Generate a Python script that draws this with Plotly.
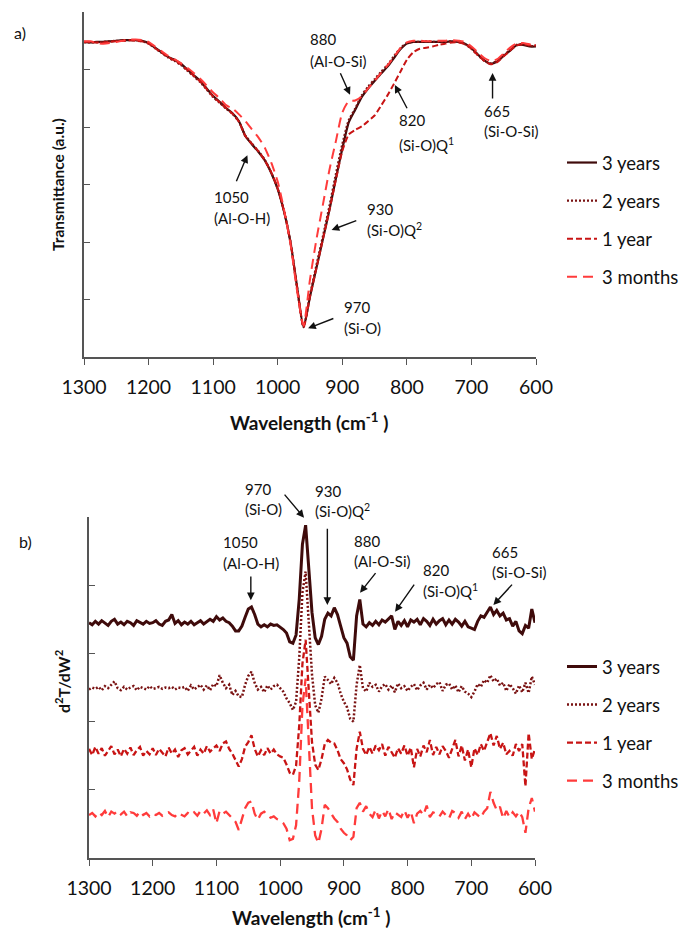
import plotly.graph_objects as go

# ---------------- data: panel a) transmittance ----------------
wn_a = list(range(1300, 599, -10))

trans_3y = [5.48, 5.47, 5.48, 5.48, 5.49, 5.50, 5.51, 5.51, 5.51, 5.50,
            5.46, 5.38, 5.30, 5.22, 5.17, 5.10, 5.00, 4.90, 4.80, 4.67,
            4.54, 4.44, 4.33, 4.24, 4.10, 3.84, 3.70, 3.57, 3.42, 3.20,
            2.92, 2.52, 1.98, 1.22, 0.52, 1.05, 1.55, 2.05, 2.55, 3.10,
            3.62, 4.08, 4.30, 4.52, 4.67, 4.80, 4.93, 5.05, 5.20, 5.35,
            5.45, 5.48, 5.48, 5.48, 5.48, 5.48, 5.48, 5.49, 5.48, 5.45,
            5.37, 5.26, 5.16, 5.10, 5.14, 5.24, 5.33, 5.42, 5.43, 5.40, 5.40]

trans_2y = [5.47, 5.47, 5.47, 5.48, 5.49, 5.50, 5.50, 5.51, 5.51, 5.49,
            5.45, 5.37, 5.29, 5.21, 5.15, 5.08, 4.98, 4.88, 4.78, 4.65,
            4.52, 4.42, 4.32, 4.23, 4.09, 3.85, 3.71, 3.58, 3.43, 3.21,
            2.93, 2.53, 1.99, 1.20, 0.52, 1.08, 1.60, 2.10, 2.62, 3.18,
            3.70, 4.12, 4.32, 4.55, 4.70, 4.83, 4.96, 5.08, 5.23, 5.37,
            5.46, 5.48, 5.48, 5.49, 5.48, 5.48, 5.49, 5.49, 5.48, 5.44,
            5.36, 5.25, 5.15, 5.11, 5.15, 5.25, 5.34, 5.43, 5.44, 5.41, 5.41]

trans_1y = [5.48, 5.48, 5.47, 5.47, 5.48, 5.49, 5.50, 5.51, 5.50, 5.49,
            5.45, 5.37, 5.30, 5.22, 5.16, 5.09, 4.99, 4.89, 4.79, 4.66,
            4.53, 4.43, 4.33, 4.23, 4.09, 3.84, 3.71, 3.58, 3.42, 3.21,
            2.93, 2.53, 1.98, 1.21, 0.52, 1.05, 1.55, 2.05, 2.55, 3.08,
            3.58, 3.87, 3.95, 4.01, 4.10, 4.20, 4.37, 4.55, 4.75, 4.96,
            5.17, 5.30, 5.36, 5.38, 5.40, 5.43, 5.45, 5.47, 5.47, 5.44,
            5.36, 5.25, 5.15, 5.09, 5.13, 5.23, 5.33, 5.42, 5.44, 5.42, 5.42]

trans_3m = [5.49, 5.49, 5.46, 5.45, 5.46, 5.48, 5.50, 5.52, 5.52, 5.51,
            5.48, 5.40, 5.32, 5.24, 5.18, 5.11, 5.03, 4.94, 4.84, 4.72,
            4.60, 4.50, 4.38, 4.32, 4.22, 4.10, 3.96, 3.82, 3.64, 3.38,
            3.05, 2.55, 1.95, 1.15, 0.55, 1.35, 2.05, 2.65, 3.25, 3.75,
            4.25, 4.45, 4.46, 4.53, 4.67, 4.80, 4.94, 5.07, 5.22, 5.37,
            5.47, 5.50, 5.50, 5.49, 5.49, 5.50, 5.50, 5.51, 5.50, 5.48,
            5.40, 5.30, 5.20, 5.15, 5.18, 5.28, 5.38, 5.45, 5.46, 5.44, 5.44]

# ---------------- data: panel b) second derivative ----------------
wn_b = list(range(1300, 599, -5))

d2_3y = [0.00, -0.03, 0.02, -0.02, 0.03, 0.00, -0.04, 0.02, 0.05, -0.02,
         0.01, -0.03, 0.02, 0.00, -0.04, 0.03, 0.01, -0.02, 0.02, -0.01,
         0.00, 0.03, -0.02, -0.04, 0.02, 0.04, 0.12, -0.01, 0.03, -0.03,
         0.01, -0.02, 0.02, -0.03, 0.00, 0.03, -0.02, 0.02, 0.05, 0.02,
         0.09, 0.04, 0.07, 0.02, 0.00, -0.05, -0.12, -0.12, -0.05, 0.08,
         0.20, 0.23, 0.12, -0.02, -0.06, -0.03, -0.06, -0.02, -0.04, -0.03,
         -0.06, -0.10, -0.15, -0.28, -0.30, -0.18, 0.35, 1.15, 1.43, 0.85,
         0.15, -0.22, -0.32, -0.20, 0.05, 0.14, 0.10, 0.22, 0.12, -0.05,
         -0.22, -0.30, -0.50, -0.55, 0.10, 0.34, -0.02, -0.06, 0.00, -0.04,
         0.02, -0.03, 0.04, 0.01, 0.06, 0.10, -0.10, 0.02, -0.04, 0.03,
         -0.06, 0.04, 0.01, 0.05, -0.03, 0.06, 0.02, -0.04, 0.05, -0.02,
         0.03, 0.06, -0.03, 0.04, -0.02, 0.05, 0.01, -0.05, 0.02, -0.06,
         -0.08, -0.10, 0.02, 0.10, 0.08, 0.15, 0.23, 0.12, 0.18, 0.10,
         0.14, 0.04, 0.06, -0.05, 0.02, -0.12, -0.16, -0.04, -0.08, 0.20,
         0.00]

d2_2y = [-0.02, 0.01, -0.01, 0.02, -0.03, 0.03, 0.00, 0.05, 0.10, 0.00,
         -0.03, 0.02, -0.02, 0.01, 0.03, -0.03, 0.02, 0.00, -0.02, 0.03,
         -0.01, 0.00, 0.02, -0.01, 0.01, 0.00, 0.02, -0.02, 0.01, 0.00,
         0.02, -0.04, 0.04, -0.02, 0.01, 0.05, -0.02, 0.04, -0.03, 0.06,
         0.03, 0.19, 0.08, 0.00, 0.05, -0.10, -0.04, -0.12, -0.13, 0.05,
         0.18, 0.24, 0.08, -0.02, 0.02, -0.06, 0.04, -0.02, 0.03, 0.05,
         0.00, -0.05, -0.15, -0.22, -0.32, -0.20, 0.45, 1.40, 1.71, 1.00,
         0.20, -0.25, -0.36, -0.15, 0.17, 0.12, 0.06, 0.15, 0.08, -0.08,
         -0.20, -0.28, -0.45, -0.49, 0.05, 0.34, 0.00, -0.05, 0.08, 0.02,
         0.05, -0.05, 0.03, 0.06, -0.02, 0.04, -0.06, 0.07, 0.00, 0.03,
         -0.04, 0.02, 0.06, -0.03, 0.04, 0.08, -0.02, 0.05, 0.00, 0.06,
         0.09, -0.04, 0.05, 0.07, -0.02, 0.04, -0.06, 0.03, -0.05, -0.08,
         -0.13, -0.05, 0.06, 0.02, 0.12, 0.08, 0.19, 0.10, 0.14, 0.04,
         0.08, -0.04, 0.06, 0.00, -0.08, 0.04, -0.06, 0.08, -0.07, 0.17,
         0.05]

d2_1y = [0.05, -0.04, 0.08, -0.02, 0.06, -0.05, 0.02, 0.09, -0.03, 0.04,
         -0.06, 0.05, -0.02, 0.07, -0.04, 0.03, 0.08, -0.05, 0.02, -0.03,
         0.06, -0.04, 0.05, 0.00, -0.06, 0.07, -0.02, 0.04, -0.07, 0.03,
         0.06, -0.03, 0.02, 0.08, -0.05, 0.04, -0.02, 0.09, 0.01, 0.06,
         0.10, 0.02, 0.13, 0.16, 0.05, -0.02, -0.12, -0.21, -0.10, 0.08,
         0.15, 0.25, 0.05, -0.06, 0.03, -0.04, 0.06, -0.02, 0.04, -0.03,
         -0.06, -0.08, -0.18, -0.30, -0.33, -0.20, 0.40, 1.30, 1.65, 0.95,
         0.15, -0.18, -0.26, -0.10, 0.12, 0.18, 0.14, 0.13, 0.03, -0.10,
         -0.16, -0.25, -0.40, -0.48, 0.05, 0.30, 0.05, -0.04, 0.08, -0.02,
         0.10, 0.03, 0.12, -0.05, 0.08, 0.00, -0.08, 0.06, -0.02, 0.10,
         -0.05, 0.07, -0.22, 0.05, -0.06, 0.10, 0.00, 0.18, -0.04, 0.08,
         -0.03, 0.09, 0.02, -0.08, 0.05, 0.18, -0.06, 0.10, -0.12, 0.04,
         -0.22, 0.06, -0.04, 0.12, 0.02, 0.15, 0.28, 0.10, 0.24, 0.05,
         0.14, -0.03, 0.02, -0.05, 0.12, 0.02, 0.12, -0.50, 0.28, -0.10,
         0.05]

d2_3m = [0.00, 0.03, -0.02, 0.04, 0.00, 0.06, -0.03, 0.05, 0.02, 0.06,
         0.01, 0.05, -0.02, 0.04, 0.03, -0.01, 0.05, 0.00, 0.03, -0.02,
         0.02, 0.00, 0.03, -0.01, 0.02, 0.04, 0.00, -0.02, 0.03, 0.01,
         -0.02, 0.03, 0.00, 0.04, -0.01, 0.06, 0.02, 0.07, 0.00, 0.08,
         -0.12, 0.06, 0.02, 0.05, 0.00, -0.04, -0.10, -0.22, -0.05, 0.10,
         0.18, 0.20, 0.02, -0.07, 0.02, 0.05, 0.00, -0.04, -0.02, -0.06,
         -0.08, -0.12, -0.20, -0.37, -0.35, -0.15, 0.50, 1.60, 2.00, 1.10,
         0.10, -0.30, -0.41, -0.20, 0.15, 0.10, 0.02, -0.05, -0.10, -0.20,
         -0.26, -0.30, -0.37, -0.32, 0.10, 0.18, 0.05, 0.13, 0.02, -0.03,
         0.08, -0.05, 0.06, -0.02, 0.09, -0.06, 0.04, 0.00, -0.03, 0.07,
         -0.04, 0.05, -0.12, 0.02, 0.06, 0.00, 0.14, -0.03, 0.04, 0.02,
         -0.02, 0.05, 0.00, -0.05, 0.06, 0.03, -0.04, 0.05, -0.06, 0.02,
         -0.06, 0.04, 0.00, -0.04, 0.05, 0.10, 0.34, 0.18, 0.07, 0.12,
         -0.05, 0.06, -0.03, 0.04, -0.02, 0.05, -0.03, -0.26, 0.10, 0.25,
         0.05]

series_names = ["3 years", "2 years", "1 year", "3 months"]
stack_offsets = [3.45, 2.49, 1.55, 0.63]
x_ticks = [1300, 1200, 1100, 1000, 900, 800, 700, 600]

# peak labels: (line1, line2, text_x, text_y1, text_y2, tail_x, tail_y, head_x, head_y)
labels_a = [
    ("880", "(Al-O-Si)", 953, 5.53, 5.15, 904, 4.96, 888, 4.56),
    ("820", "(Si-O)Q<sup>1</sup>", 815.5, 4.12, 3.69, 798.5, 4.30, 818.6, 4.73),
    ("665", "(Si-O-Si)", 684, 4.28, 3.93, 667.3, 4.47, 667.3, 4.94),
    ("1050", "(Al-O-H)", 1102, 2.78, 2.42, 1065, 3.03, 1047, 3.51),
    ("930", "(Si-O)Q<sup>2</sup>", 865, 2.57, 2.21, 876, 2.38, 916.6, 2.21),
    ("970", "(Si-O)", 900.6, 0.87, 0.50, 911.5, 0.68, 953, 0.50),
]
labels_b = [
    ("970", "(Si-O)", 1058, 5.41, 5.12, 995, 5.35, 962.5, 4.99),
    ("930", "(Si-O)Q<sup>2</sup>", 948.4, 5.38, 5.10, 925.9, 4.85, 925.9, 3.71),
    ("1050", "(Al-O-H)", 1092.8, 4.63, 4.32, 1046, 4.15, 1046, 3.78),
    ("880", "(Al-O-Si)", 887.1, 4.65, 4.36, 848.4, 4.20, 874.6, 3.89),
    ("820", "(Si-O)Q<sup>1</sup>", 778.8, 4.22, 3.92, 788, 4.03, 819.6, 3.61),
    ("665", "(Si-O-Si)", 670.5, 4.49, 4.19, 633.9, 4.03, 665.3, 3.71),
]

# ---------------- styling ----------------
FONT = "Lato, Carlito, Calibri, sans-serif"
colors = ["#3f0b0b", "#7a1212", "#c81414", "#ff3b3b"]
dashes = ["solid", "2px,2px", "6px,3px", "10px,6px"]
widths_a = [2.2, 2.2, 2.0, 2.0]
widths_b = [3.0, 2.5, 2.3, 2.3]

W, H = 694, 932
def px_x(p):
    return p / W
def px_y(p):
    return 1 - p / H

XDOM_A = [px_x(84), px_x(536)]
YDOM_A = [px_y(357), px_y(12)]
XDOM_B = [px_x(89), px_x(535)]
YDOM_B = [px_y(858), px_y(517)]
YMAX_A, YMAX_B = 6, 5

def to_paper(x, y, xdom, ydom, ymax):
    xp = xdom[0] + (1300 - x) / 700 * (xdom[1] - xdom[0])
    yp = ydom[0] + y / ymax * (ydom[1] - ydom[0])
    return xp, yp

fig = go.Figure()

trans = [trans_3y, trans_2y, trans_1y, trans_3m]
for i, name in enumerate(series_names):
    fig.add_trace(go.Scatter(
        x=wn_a, y=trans[i], mode="lines", name=name,
        line=dict(color=colors[i], width=widths_a[i], dash=dashes[i], shape="spline", smoothing=0.6),
        xaxis="x", yaxis="y", legend="legend", legendgroup="a" + str(i),
        hoverinfo="skip"))

d2 = [d2_3y, d2_2y, d2_1y, d2_3m]
for i, name in enumerate(series_names):
    fig.add_trace(go.Scatter(
        x=wn_b, y=[v + stack_offsets[i] for v in d2[i]], mode="lines", name=name,
        line=dict(color=colors[i], width=widths_b[i], dash=dashes[i]),
        xaxis="x2", yaxis="y2", legend="legend2", legendgroup="b" + str(i),
        hoverinfo="skip"))

axis_common = dict(showline=True, linecolor="#555555", linewidth=1.5, mirror=False,
                   showgrid=False, zeroline=False, automargin=False)

annotations = []
def add_labels(labels, xr, yr, xdom, ydom, ymax):
    for (l1, l2, tx, ty1, ty2, ax_, ay_, hx, hy) in labels:
        for txt, ty in ((l1, ty1), (l2, ty2)):
            xp, yp = to_paper(tx, ty, xdom, ydom, ymax)
            annotations.append(dict(x=xp, y=yp, xref="paper", yref="paper", text=txt, showarrow=False,
                                    xanchor="left", yanchor="middle",
                                    font=dict(family=FONT, size=15, color="#111111")))
        annotations.append(dict(x=hx, y=hy, xref=xr, yref=yr, ax=ax_, ay=ay_, axref=xr, ayref=yr,
                                text="", showarrow=True, arrowhead=2, arrowsize=1.1,
                                arrowwidth=1.4, arrowcolor="#111111"))

add_labels(labels_a, "x", "y", XDOM_A, YDOM_A, YMAX_A)
add_labels(labels_b, "x2", "y2", XDOM_B, YDOM_B, YMAX_B)

annotations += [
    dict(x=px_x(20), y=px_y(32), xref="paper", yref="paper", text="a)", showarrow=False,
         xanchor="center", yanchor="middle", font=dict(family=FONT, size=16, color="#111111")),
    dict(x=px_x(25), y=px_y(541), xref="paper", yref="paper", text="b)", showarrow=False,
         xanchor="center", yanchor="middle", font=dict(family=FONT, size=16, color="#111111")),
    dict(x=px_x(58), y=px_y(185), xref="paper", yref="paper", text="<b>Transmittance (a.u.)</b>",
         textangle=-90, showarrow=False, xanchor="center", yanchor="middle",
         font=dict(family=FONT, size=15.5, color="#111111")),
    dict(x=px_x(62), y=px_y(682), xref="paper", yref="paper", text="<b>d<sup>2</sup>T/dW<sup>2</sup></b>",
         textangle=-90, showarrow=False, xanchor="center", yanchor="middle",
         font=dict(family=FONT, size=16, color="#111111")),
    dict(x=px_x(309), y=px_y(421), xref="paper", yref="paper",
         text="<b>Wavelength (cm<sup>-1</sup> )</b>", showarrow=False, xanchor="center", yanchor="middle",
         font=dict(family=FONT, size=19, color="#111111")),
    dict(x=px_x(311), y=px_y(916), xref="paper", yref="paper",
         text="<b>Wavelength (cm<sup>-1</sup> )</b>", showarrow=False, xanchor="center", yanchor="middle",
         font=dict(family=FONT, size=19, color="#111111")),
]

fig.update_layout(
    width=W, height=H, margin=dict(l=0, r=0, t=0, b=0, pad=0, autoexpand=False),
    paper_bgcolor="white", plot_bgcolor="white",
    font=dict(family=FONT, size=17, color="#111111"),
    hovermode=False,
    xaxis=dict(domain=XDOM_A, range=[1300, 600], anchor="y",
               tickvals=x_ticks, ticks="outside", ticklen=6, tickcolor="#555555",
               ticklabelstandoff=6, tickfont=dict(family=FONT, size=19.5), **axis_common),
    yaxis=dict(domain=YDOM_A, range=[0, YMAX_A], anchor="x",
               tickvals=[0, 1, 2, 3, 4, 5, 6], ticks="inside", ticklen=6, tickcolor="#555555",
               showticklabels=False, **axis_common),
    xaxis2=dict(domain=XDOM_B, range=[1300, 600], anchor="y2",
                tickvals=x_ticks, ticks="outside", ticklen=6, tickcolor="#555555",
                ticklabelstandoff=6, tickfont=dict(family=FONT, size=19.5), **axis_common),
    yaxis2=dict(domain=YDOM_B, range=[0, YMAX_B], anchor="x2",
                tickvals=[0, 1, 2, 3, 4, 5], ticks="inside", ticklen=6, tickcolor="#555555",
                showticklabels=False, **axis_common),
    legend=dict(x=px_x(562), y=px_y(144), xanchor="left", yanchor="top",
                font=dict(family=FONT, size=18.5), tracegroupgap=11, bgcolor="rgba(0,0,0,0)"),
    legend2=dict(x=px_x(562), y=px_y(648), xanchor="left", yanchor="top",
                 font=dict(family=FONT, size=18.5), tracegroupgap=11, bgcolor="rgba(0,0,0,0)"),
    annotations=annotations,
)

fig.write_html("out.html", config={"displayModeBar": False},
               post_script="document.body.style.margin='0px';document.body.style.overflow='hidden';")
